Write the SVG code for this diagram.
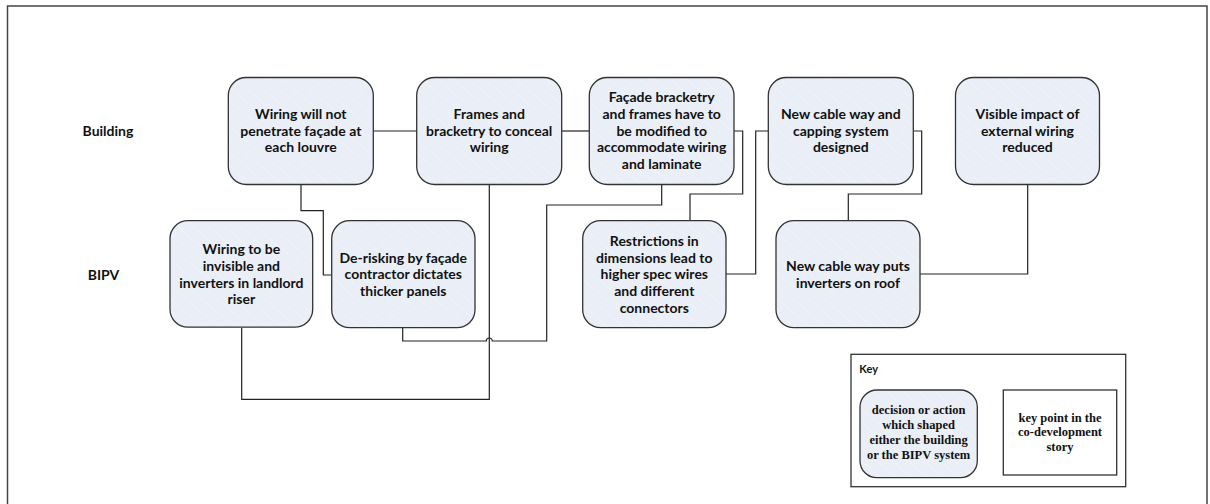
<svg xmlns="http://www.w3.org/2000/svg" width="1210" height="504" viewBox="0 0 1210 504">
<defs>
<pattern id="hatch" width="10" height="10" patternUnits="userSpaceOnUse" patternTransform="rotate(-50)">
<rect width="10" height="10" fill="#e9eef7"/>
<line x1="0" y1="0" x2="0" y2="10" stroke="#f4f7fb" stroke-width="1.2"/>
</pattern>
<style>
.node{fill:url(#hatch);stroke:#333;stroke-width:1.3}
.t{font-family:Lato,"Liberation Sans",sans-serif;font-weight:bold;font-size:14px;fill:#111;text-anchor:middle}
.lbl{font-family:Lato,"Liberation Sans",sans-serif;font-weight:bold;font-size:14px;fill:#111;text-anchor:middle}
.k{font-family:"Liberation Serif",serif;font-weight:bold;font-size:12.5px;fill:#111;text-anchor:middle}
.c{fill:none;stroke:#222;stroke-width:1.2}
.box{fill:#fff;stroke:#333;stroke-width:1.3}
</style>
</defs>
<rect width="1210" height="504" fill="#fff"/>
<path d="M7.5,504 V6 H1207 V504" fill="none" stroke="#444" stroke-width="1.5"/>

<text class="lbl" x="108" y="136">Building</text>
<text class="lbl" x="103.5" y="280">BIPV</text>

<g id="connectors">
<path class="c" d="M373.3,131 H416.7"/>
<path class="c" d="M561.7,131 H589.3"/>
<path class="c" d="M301,184.5 V210.7 H323.3 V275 H331.7"/>
<path class="c" d="M489.3,184.5 V399.3 H241.7 V327.7"/>
<path class="c" d="M661.7,184.5 V205 H546.7 V341 H492.3 A3,3 0 0 0 486.3,341 H402.7 V327.7"/>
<path class="c" d="M734,131 H742.7 V194 H690 V220.7"/>
<path class="c" d="M768.3,131 H755.7 V274 H726"/>
<path class="c" d="M913.3,131 H921.7 V194 H848.3 V220.7"/>
<path class="c" d="M920,274 H1027.7 V184.5"/>
</g>

<g id="n1">
<rect class="node" x="228.3" y="77.5" width="145" height="107" rx="18"/>
<text class="t" x="300.8" y="119">Wiring will not</text>
<text class="t" x="300.8" y="135.7">penetrate façade at</text>
<text class="t" x="300.8" y="152.4">each louvre</text>
</g>
<g id="n2">
<rect class="node" x="416.7" y="77.5" width="145" height="107" rx="18"/>
<text class="t" x="489.2" y="119">Frames and</text>
<text class="t" x="489.2" y="135.7">bracketry to conceal</text>
<text class="t" x="489.2" y="152.4">wiring</text>
</g>
<g id="n3">
<rect class="node" x="589.3" y="77.5" width="144.7" height="107" rx="18"/>
<text class="t" x="661.7" y="102.3">Façade bracketry</text>
<text class="t" x="661.7" y="119">and frames have to</text>
<text class="t" x="661.7" y="135.7">be modified to</text>
<text class="t" x="661.7" y="152.4">accommodate wiring</text>
<text class="t" x="661.7" y="169.1">and laminate</text>
</g>
<g id="n4">
<rect class="node" x="768.3" y="77.5" width="145" height="107" rx="18"/>
<text class="t" x="840.8" y="119">New cable way and</text>
<text class="t" x="840.8" y="135.7">capping system</text>
<text class="t" x="840.8" y="152.4">designed</text>
</g>
<g id="n5">
<rect class="node" x="955.5" y="77.5" width="144" height="107" rx="18"/>
<text class="t" x="1027.5" y="119">Visible impact of</text>
<text class="t" x="1027.5" y="135.7">external wiring</text>
<text class="t" x="1027.5" y="152.4">reduced</text>
</g>
<g id="b1">
<rect class="node" x="170" y="220.7" width="142.7" height="106.5" rx="18"/>
<text class="t" x="241.4" y="254.1">Wiring to be</text>
<text class="t" x="241.4" y="270.8">invisible and</text>
<text class="t" x="241.4" y="287.5">inverters in landlord</text>
<text class="t" x="241.4" y="304.2">riser</text>
</g>
<g id="b2">
<rect class="node" x="331.7" y="220.7" width="143.3" height="107" rx="18"/>
<text class="t" x="403.3" y="262.5">De-risking by façade</text>
<text class="t" x="403.3" y="279.2">contractor dictates</text>
<text class="t" x="403.3" y="295.9">thicker panels</text>
</g>
<g id="b3">
<rect class="node" x="582.7" y="220.7" width="143.3" height="107" rx="18"/>
<text class="t" x="654.3" y="245.8">Restrictions in</text>
<text class="t" x="654.3" y="262.5">dimensions lead to</text>
<text class="t" x="654.3" y="279.2">higher spec wires</text>
<text class="t" x="654.3" y="295.9">and different</text>
<text class="t" x="654.3" y="312.6">connectors</text>
</g>
<g id="b4">
<rect class="node" x="776" y="220.7" width="144" height="107" rx="18"/>
<text class="t" x="848" y="270.8">New cable way puts</text>
<text class="t" x="848" y="287.5">inverters on roof</text>
</g>

<g id="key">
<rect class="box" x="851" y="354.3" width="274.7" height="132.4"/>
<text x="859.3" y="373" style="font-family:Lato,'Liberation Sans',sans-serif;font-weight:bold;font-size:11px;fill:#111">Key</text>
<g id="key-node">
<rect class="node" x="860" y="390" width="117.3" height="87.7" rx="17"/>
<text class="k" x="918.6" y="414.3">decision or action</text>
<text class="k" x="918.6" y="429.3">which shaped</text>
<text class="k" x="918.6" y="444.3">either the building</text>
<text class="k" x="918.6" y="459.3">or the BIPV system</text>
</g>
<g id="key-point">
<rect class="box" x="1003.3" y="390" width="113.4" height="85"/>
<text class="k" x="1060" y="421.5">key point in the</text>
<text class="k" x="1060" y="436">co-development</text>
<text class="k" x="1060" y="450.5">story</text>
</g>
</g>
</svg>
